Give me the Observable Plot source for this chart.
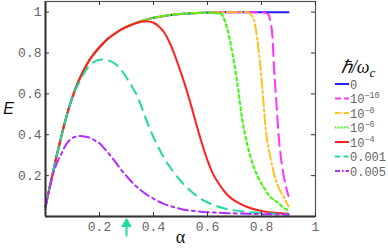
<!DOCTYPE html>
<html><head><meta charset="utf-8">
<script src="https://cdn.jsdelivr.net/npm/d3@7"></script>
<script src="https://cdn.jsdelivr.net/npm/@observablehq/plot@0.6"></script>
<style>
body{margin:0;background:#fff}
#wrap{position:relative;width:388px;height:249px;overflow:hidden}
#legend{position:absolute;left:0;top:0;pointer-events:none}
</style>
</head><body><div id="wrap"></div>
<script>
// envelope (h/ωc = 0)
const envAlpha = [0,0.01,0.02,0.03,0.04,0.05,0.06,0.08,0.1,0.12,0.14,0.16,0.18,0.2,0.23,0.26,0.29,0.32,0.35,0.4,0.45,0.5,0.55,0.6,0.65,0.7,0.75,0.8,0.85,0.9];
const envE     = [0.05,0.11,0.17,0.23,0.29,0.345,0.40,0.50,0.585,0.655,0.712,0.76,0.797,0.828,0.868,0.898,0.922,0.94,0.954,0.972,0.984,0.991,0.995,0.998,0.999,1,1,1,1,1];

// tails where each curve leaves the envelope
const m10Cut = 0.815;
const m10Alpha = [0.825,0.833,0.84,0.846,0.852,0.858,0.864,0.877,0.89,0.9];
const m10E     = [0.99,0.954,0.889,0.74,0.62,0.5,0.39,0.24,0.15,0.1];
const m8Cut = 0.75;
const m8Alpha = [0.759,0.772,0.784,0.794,0.803,0.815,0.833,0.858,0.883,0.9];
const m8E     = [0.99,0.962,0.873,0.759,0.63,0.435,0.289,0.159,0.094,0.05];
const m6Cut = 0.64;
const m6Alpha = [0.652,0.662,0.673,0.691,0.704,0.716,0.728,0.747,0.772,0.79,0.808,0.83,0.858,0.88,0.9];
const m6E     = [0.99,0.965,0.92,0.808,0.71,0.6,0.48,0.354,0.24,0.185,0.143,0.1,0.07,0.045,0.029];
const m4Cut = 0.3;
const m4Alpha = [0.32,0.35,0.375,0.4,0.42,0.44,0.46,0.48,0.5,0.52,0.54,0.56,0.58,0.6,0.62,0.64,0.66,0.68,0.7,0.72,0.75,0.78,0.81,0.85,0.9];
const m4E     = [0.938,0.952,0.955,0.948,0.93,0.9,0.85,0.785,0.71,0.63,0.54,0.445,0.355,0.275,0.21,0.165,0.127,0.098,0.078,0.063,0.045,0.033,0.025,0.018,0.013];
const m001Cut = 0.1;
const m001Alpha = [0.12,0.14,0.16,0.18,0.2,0.22,0.24,0.26,0.28,0.3,0.32,0.34,0.36,0.39,0.41,0.44,0.47,0.5,0.54,0.58,0.62,0.66,0.7,0.75,0.8,0.85,0.9];
const m001E     = [0.643,0.695,0.735,0.757,0.767,0.768,0.76,0.745,0.718,0.68,0.637,0.589,0.52,0.418,0.36,0.285,0.225,0.175,0.122,0.083,0.058,0.04,0.03,0.022,0.017,0.013,0.01];
const m005Cut = -1;
const m005Alpha = [0,0.01,0.02,0.031,0.045,0.06,0.075,0.093,0.11,0.13,0.15,0.167,0.185,0.204,0.22,0.241,0.26,0.278,0.3,0.33,0.352,0.377,0.41,0.438,0.47,0.5,0.56,0.62,0.685,0.75,0.82,0.9];
const m005E     = [0.04,0.11,0.165,0.22,0.27,0.31,0.35,0.378,0.39,0.394,0.39,0.384,0.37,0.354,0.33,0.297,0.265,0.232,0.198,0.155,0.13,0.105,0.08,0.062,0.048,0.037,0.026,0.02,0.016,0.013,0.011,0.009];

const seriesLabels = [["0",""],["10","−10"],["10","−8"],["10","−6"],["10","−4"],["0.001",""],["0.005",""]];
const seriesColors = ["#2222ff","#ff33ff","#ffc020","#33ff00","#ff2020","#20d8a0","#b030ff"];
const seriesDash   = ["none","12,6","10,3,2,3","3,3","none","10,7","10,4,3,4"];

const xTicks = [0.2,0.4,0.6,0.8,1];
const yTicks = [0.2,0.4,0.6,0.8,1];
const arrowAlpha = [0.3];

const cuts  = [0.9, m10Cut, m8Cut, m6Cut, m4Cut, m001Cut, m005Cut];
const tails = [[[],[]],[m10Alpha,m10E],[m8Alpha,m8E],[m6Alpha,m6E],[m4Alpha,m4E],[m001Alpha,m001E],[m005Alpha,m005E]];

const seriesData = cuts.map((c, i) => {
  const rows = [];
  envAlpha.forEach((a, j) => { if (a <= c) rows.push({a, e: envE[j]}); });
  tails[i][0].forEach((a, j) => rows.push({a, e: tails[i][1][j]}));
  return rows;
});

const mono = "Liberation Mono, DejaVu Sans Mono, monospace";
const teal = seriesColors[5];

const lines = seriesData.map((rows, i) => Plot.line(rows, {
  x: "a", y: "e", stroke: seriesColors[i], strokeWidth: 2,
  strokeDasharray: seriesDash[i] === "none" ? null : seriesDash[i],
  curve: "monotone-x"
}));

const plot = Plot.plot({
  width: 388, height: 249,
  marginLeft: 45, marginRight: 73, marginTop: 1, marginBottom: 33,
  x: {domain: [0, 1], axis: null},
  y: {domain: [0, 1.052], axis: null},
  style: {background: "white", overflow: "visible"},
  marks: [
    ...lines,
    Plot.frame({stroke: "#555", strokeWidth: 1.2}),
    Plot.ruleX([0], {stroke: "#333", strokeWidth: 2}),
    Plot.ruleY([0], {stroke: "#333", strokeWidth: 2}),
    Plot.ruleX(xTicks, {x: d => d, y1: 0, y2: 0.02, stroke: "#333"}),
    Plot.ruleX(xTicks, {x: d => d, y1: 1.032, y2: 1.052, stroke: "#333"}),
    Plot.ruleY(yTicks, {y: d => d, x1: 0, x2: 0.015, stroke: "#333"}),
    Plot.ruleY(yTicks, {y: d => d, x1: 0.985, x2: 1, stroke: "#333"}),
    Plot.text(xTicks, {x: d => d, y: 0, dy: 10, text: d => String(d), fontFamily: mono, fontSize: 13, fill: "#666"}),
    Plot.text(yTicks, {x: 0, y: d => d, dx: -4, textAnchor: "end", text: d => String(d), fontFamily: mono, fontSize: 13, fill: "#666"}),
    Plot.text(["E"], {x: 0, y: 0.527, dx: -37, text: d => d, fontFamily: "Liberation Sans, sans-serif", fontStyle: "italic", fontSize: 16, fill: "#111"}),
    Plot.text(["α"], {x: 0.5, y: 0, dy: 21, text: d => d, fontFamily: "Liberation Serif, serif", fontSize: 18, fill: "#111"}),
    Plot.ruleX(arrowAlpha, {x: d => d, y1: -0.1, y2: -0.04, stroke: teal, strokeWidth: 2}),
    Plot.dot(arrowAlpha, {x: d => d, y: -0.036, symbol: "triangle", r: 4, fill: teal, stroke: null})
  ]
});
const wrap = document.getElementById("wrap");
wrap.appendChild(plot);

// legend
const svg = d3.select(wrap).append("svg").attr("id", "legend").attr("width", 388).attr("height", 249);
const title = svg.append("text").attr("x", 358).attr("y", 73).attr("text-anchor", "middle")
  .attr("font-family", "Liberation Serif, serif").attr("font-style", "italic").attr("font-size", 18).attr("fill", "#111");
title.append("tspan").text("ℏ/ω");
title.append("tspan").attr("dy", 4).attr("font-size", 13).text("c");
seriesLabels.forEach((lab, i) => {
  const y = 84 + i * 14.5;
  svg.append("line").attr("x1", 335).attr("x2", 349).attr("y1", y).attr("y2", y)
    .attr("stroke", seriesColors[i]).attr("stroke-width", 2)
    .attr("stroke-dasharray", seriesDash[i] === "none" ? null : seriesDash[i].split(",").map(v => v * 0.5).join(","));
  const t = svg.append("text").attr("x", 350).attr("y", y + 4.5)
    .attr("font-family", mono).attr("font-size", 12).attr("fill", "#666");
  t.append("tspan").text(lab[0]);
  if (lab[1]) t.append("tspan").attr("dy", -5).attr("font-size", 8.5).text(lab[1]);
});
</script>
</body></html>
